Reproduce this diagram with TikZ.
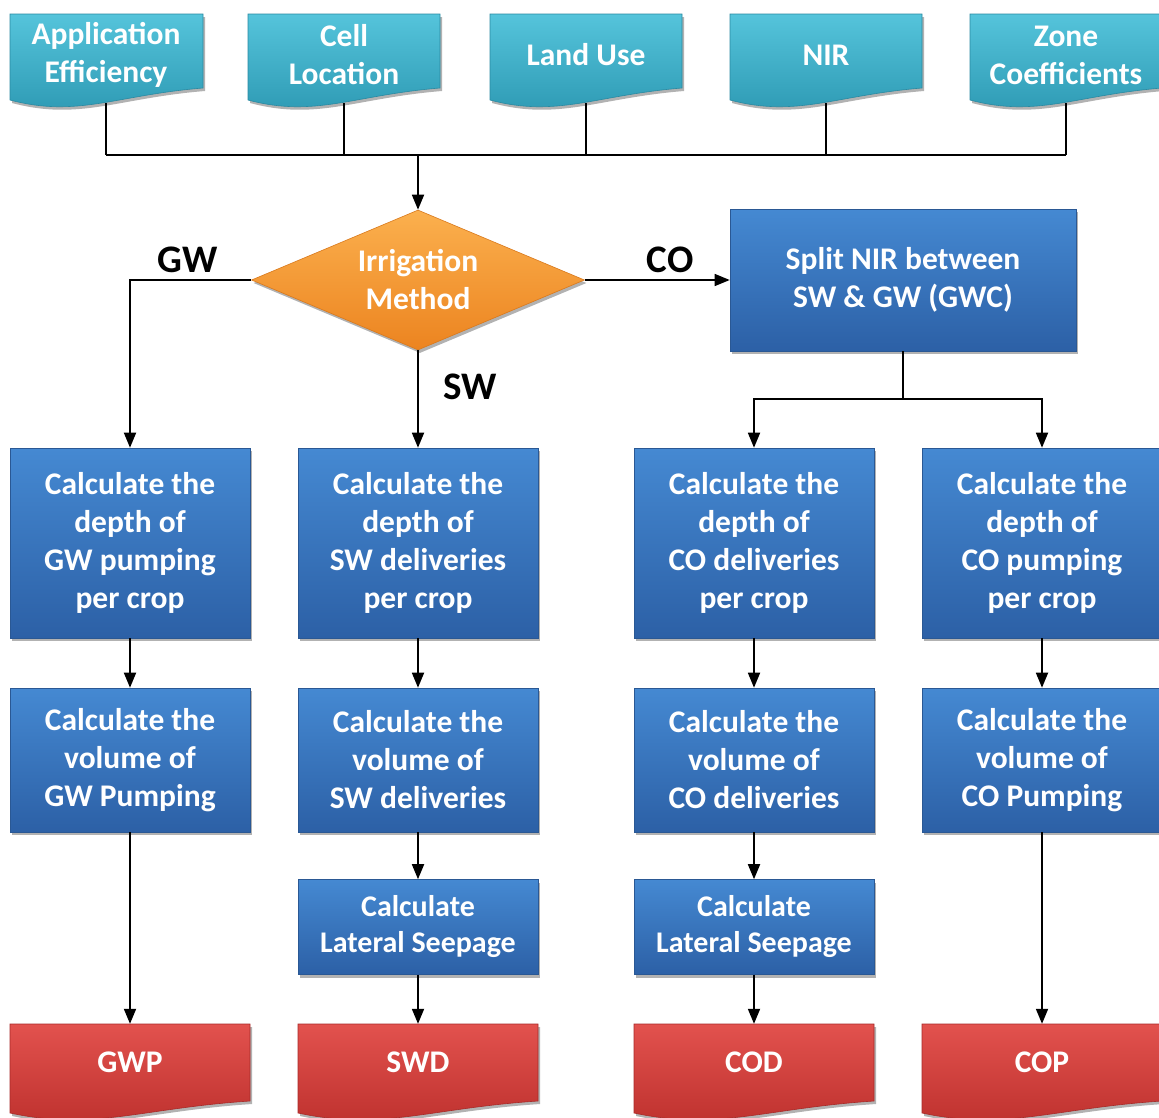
\documentclass[tikz,border=0pt]{standalone}
\usepackage{fontspec}
\setmainfont{Carlito}
\usetikzlibrary{shapes.geometric,shadows,arrows.meta}
\definecolor{cyanT}{HTML}{55C4DB}
\definecolor{cyanB}{HTML}{2C98B2}
\definecolor{cyanD}{HTML}{2A8AA2}
\definecolor{blueT}{HTML}{4589D2}
\definecolor{blueB}{HTML}{2C60A6}
\definecolor{blueD}{HTML}{2A5894}
\definecolor{orT}{HTML}{FBB04E}
\definecolor{orB}{HTML}{EC8420}
\definecolor{orD}{HTML}{D9791C}
\definecolor{redT}{HTML}{E2524E}
\definecolor{redB}{HTML}{BC2F2C}
\definecolor{redD}{HTML}{A82A28}
\newcommand\wavydoc[5]{% x1, y1, x2, yb, style
  \path[#5] (#1,#2) -- (#3,#2) -- (#3,#4-12)
    .. controls ({#1+0.55*(#3-#1)},#4-5) and ({#1+0.35*(#3-#1)},#4+18) .. (#1,#4) -- cycle;}
\tikzset{
  shad/.style={drop shadow={shadow xshift=2pt,shadow yshift=-3pt,opacity=0.3,fill=black}},
  cyandoc/.style={top color=cyanT,bottom color=cyanB,draw=cyanD,line width=0.6pt,shad},
  reddoc/.style={top color=redT,bottom color=redB,draw=redD,line width=0.6pt,shad},
  txt/.style={text=white,font=\bfseries\fontsize{31.5}{38}\selectfont,align=center,inner sep=0pt},
  doctext/.style={txt,minimum width=190pt},
  proc/.style={txt,rectangle,minimum width=240pt,top color=blueT,bottom color=blueB,draw=blueD,line width=0.6pt,shad},
  dec/.style={txt,diamond,aspect=2.38,minimum width=333pt,minimum height=140pt,top color=orT,bottom color=orB,draw=orD,line width=0.6pt,shad},
  lbl/.style={font=\bfseries\fontsize{39}{44}\selectfont,text=black,inner sep=0pt},
  conn/.style={line width=1.8pt,black},
  arr/.style={conn,-{Triangle[length=15pt,width=12pt]}},
}
\begin{document}
\begin{tikzpicture}[x=1pt,y=-1pt]
\useasboundingbox[fill=white] (0,0) rectangle (1159,1117);
% input documents
\wavydoc{10}{14}{203}{100}{cyandoc}
\wavydoc{248}{14}{440}{100}{cyandoc}
\wavydoc{490}{14}{682}{100}{cyandoc}
\wavydoc{730}{14}{922}{100}{cyandoc}
\wavydoc{970}{14}{1162}{100}{cyandoc}
\node[doctext,minimum height=96pt] (ae) at (106,55) {Application\\Efficiency};
\node[doctext,minimum height=96pt] (cl) at (344,55) {Cell\\Location};
\node[doctext,minimum height=96pt] (lu) at (586,55) {Land Use};
\node[doctext,minimum height=96pt] (nir) at (826,55) {NIR};
\node[doctext,minimum height=96pt] (zc) at (1066,55) {Zone\\Coefficients};
\coordinate (bus) at (418,155);
% decision and split
\node[dec] (im) at (418,280) {Irrigation\\Method};
\node[proc,minimum width=346pt,minimum height=142pt] (split) at (903,280) {Split NIR between\\SW \& GW (GWC)};
% row 1
\node[proc,minimum height=190pt] (gw1) at (130,543) {Calculate the\\depth of\\GW pumping\\per crop};
\node[proc,minimum height=190pt] (sw1) at (418,543) {Calculate the\\depth of\\SW deliveries\\per crop};
\node[proc,minimum height=190pt] (cd1) at (754,543) {Calculate the\\depth of\\CO deliveries\\per crop};
\node[proc,minimum height=190pt] (cp1) at (1042,543) {Calculate the\\depth of\\CO pumping\\per crop};
% row 2
\node[proc,minimum height=144pt] (gw2) at (130,760) {Calculate the\\volume of\\GW Pumping};
\node[proc,minimum height=144pt] (sw2) at (418,760) {Calculate the\\volume of\\SW deliveries};
\node[proc,minimum height=144pt] (cd2) at (754,760) {Calculate the\\volume of\\CO deliveries};
\node[proc,minimum height=144pt] (cp2) at (1042,760) {Calculate the\\volume of\\CO Pumping};
% row 3
\node[proc,minimum height=95pt,font=\bfseries\fontsize{30}{36}\selectfont] (sw3) at (418,927) {Calculate\\Lateral Seepage};
\node[proc,minimum height=95pt,font=\bfseries\fontsize{30}{36}\selectfont] (cd3) at (754,927) {Calculate\\Lateral Seepage};
% outputs
\wavydoc{10}{1024}{250}{1113}{reddoc}
\wavydoc{298}{1024}{538}{1113}{reddoc}
\wavydoc{634}{1024}{874}{1113}{reddoc}
\wavydoc{922}{1024}{1162}{1113}{reddoc}
\node[txt,minimum height=76pt] (gwp) at (130,1062) {GWP};
\node[txt,minimum height=76pt] (swd) at (418,1062) {SWD};
\node[txt,minimum height=76pt] (cod) at (754,1062) {COD};
\node[txt,minimum height=76pt] (cop) at (1042,1062) {COP};
% connectors
\foreach \n in {ae,cl,lu,nir,zc} \draw[conn] (\n.south) -- (\n.south |- bus);
\draw[conn] (ae.south |- bus) -- (zc.south |- bus);
\draw[arr] (bus) -- (im.north);
\draw[arr] (im.west) -| (gw1.north);
\draw[arr] (im.south) -- (sw1.north);
\draw[arr,line width=1.4pt] (im.east) -- (split.west);
\draw[conn] (split.south) -- ++(0,48) coordinate (sj);
\draw[arr] (sj) -| (cd1.north);
\draw[arr] (sj) -| (cp1.north);
\draw[arr] (gw1) -- (gw2);
\draw[arr] (sw1) -- (sw2);
\draw[arr] (cd1) -- (cd2);
\draw[arr] (cp1) -- (cp2);
\draw[arr] (sw2) -- (sw3);
\draw[arr] (cd2) -- (cd3);
\draw[arr] (gw2.south) -- (gwp.north);
\draw[arr] (sw3.south) -- (swd.north);
\draw[arr] (cd3.south) -- (cod.north);
\draw[arr] (cp2.south) -- (cop.north);
% labels
\node[lbl] (lgw) at (188,260) {GW};
\node[lbl] (lco) at (670,260) {CO};
\node[lbl] (lsw) at (470,387) {SW};
\end{tikzpicture}
\end{document}
